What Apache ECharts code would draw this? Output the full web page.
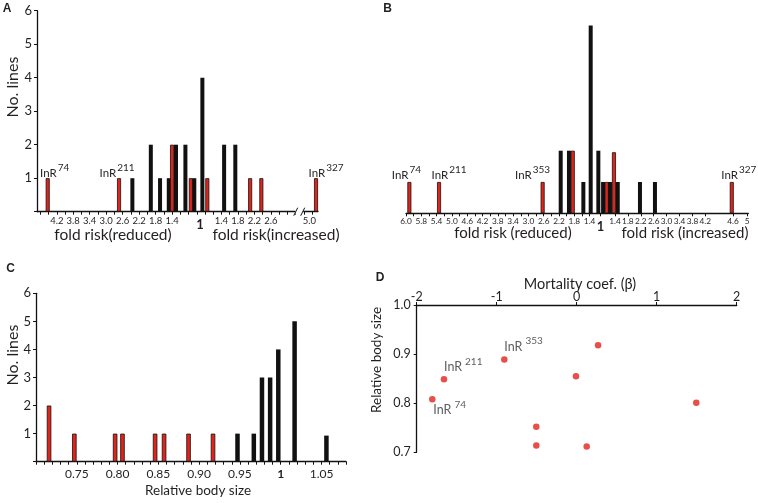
<!DOCTYPE html>
<html><head><meta charset="utf-8">
<script src="https://cdn.jsdelivr.net/npm/echarts@6/dist/echarts.min.js"></script>
<style>html,body{margin:0;padding:0;background:#fff}#c{width:758px;height:503px}</style>
</head><body><div id="c"></div>
<script>
// ---------- DATA ----------
// Panel A: bar positions on the schematic fold-risk axis (slot units), counts, red flag, tags
const aPos   = [-0.55, 3.78, 4.59, 5.71, 6.27, 6.80, 7.00, 7.24, 7.81, 8.14, 8.35, 8.84, 9.14, 10.16, 10.84, 11.74, 12.42, 15.74];
const aCount = [1, 1, 1, 2, 1, 1, 2, 2, 2, 1, 1, 4, 1, 2, 2, 1, 1, 1];
const aRed   = [1, 1, 0, 0, 0, 0, 1, 0, 0, 1, 0, 0, 1, 0, 0, 1, 1, 1];
const aTag   = ['74', '211', '', '', '', '', '', '', '', '', '', '', '', '', '', '', '', '327'];
const aTickPos  = [0, 1, 2, 3, 4, 5, 6, 7, 8.7, 10, 11, 12, 13, 15.34];
const aTickText = ['4.2', '3.8', '3.4', '3.0', '2.6', '2.2', '1.8', '1.4', '1', '1.4', '1.8', '2.2', '2.6', '5.0'];

// Panel B
const bPos   = [0.22, 2.16, 8.93, 10.11, 10.65, 10.90, 11.59, 12.07, 12.57, 12.88, 13.12, 13.33, 13.59, 13.84, 15.29, 16.27, 21.29];
const bCount = [1, 1, 1, 2, 2, 2, 1, 6, 2, 1, 1, 1, 1.95, 1, 1, 1, 1];
const bRed   = [1, 1, 1, 0, 0, 1, 0, 0, 0, 0, 1, 0, 1, 0, 0, 0, 1];
const bTag   = ['74', '211', '353', '', '', '', '', '', '', '', '', '', '', '', '', '', '327'];
const bTickPos  = [0, 1, 2, 3, 4, 5, 6, 7, 8, 9, 10, 11, 12, 12.71, 13.66, 14.5, 15.35, 16.19, 17.03, 17.87, 18.72, 19.56, 21.37, 22.29];
const bTickText = ['6.0', '5.8', '5.4', '5.0', '4.6', '4.2', '3.8', '3.4', '3.0', '2.6', '2.2', '1.8', '1.4', '1', '1.4', '1.8', '2.2', '2.6', '3.0', '3.4', '3.8', '4.2', '4.6', '5'];

// Panel C: relative body size
const cSize  = [0.716, 0.747, 0.797, 0.806, 0.846, 0.857, 0.887, 0.917, 0.947, 0.967, 0.977, 0.987, 0.997, 1.017, 1.056];
const cCount = [2, 1, 1, 1, 1, 1, 1, 1, 1, 1, 3, 3, 4, 5, 0.93];
const cRed   = [1, 1, 1, 1, 1, 1, 1, 1, 0, 0, 0, 0, 0, 0, 0];
const cTickText = ['0.75', '0.80', '0.85', '0.90', '0.95', '1', '1.05'];

// Panel D: mortality coefficient vs relative body size
const dBeta = [-1.805, -1.659, -0.905, 0.267, -0.009, 1.495, -0.505, -0.505, 0.125];
const dSize = [0.808, 0.849, 0.889, 0.918, 0.855, 0.801, 0.752, 0.714, 0.712];
const dTag  = ['74', '211', '353', '', '', '', '', '', ''];

// ---------- STYLE ----------
const RED = '#e2231a', BLK = '#111111', TXT = '#231f20';
const FONT = 'Lato, "Open Sans", sans-serif';
const tagOffA = {'74': [7, 1], '211': [-2, 1], '327': [10, 1]};
const tagOffB = {'74': [-3, -1], '211': [10, -1], '353': [-10, -1], '327': [7, -1]};
const tagOffD = {'74': [1, 9], '211': [0, -14], '353': [0, -15]};

const tagRich = {
  b: {fontSize: 11.5, fontFamily: FONT, color: TXT, verticalAlign: 'bottom'},
  s: {fontSize: 10, fontFamily: FONT, color: TXT, verticalAlign: 'bottom', padding: [0, 0, 6.5, 1]}
};
const tagRichD = {
  b: {fontSize: 12.5, fontFamily: FONT, color: '#333', verticalAlign: 'bottom', padding: [0, 3, 0, 0]},
  s: {fontSize: 10, fontFamily: FONT, color: '#333', verticalAlign: 'bottom', padding: [0, 0, 7, 0]}
};

function barData(pos, cnt, red, tags, offs) {
  return pos.map((p, i) => {
    const item = {
      value: [p, cnt[i]],
      itemStyle: red[i] ? {color: RED, borderColor: BLK, borderWidth: 0.8} : {color: BLK}
    };
    if (tags && tags[i]) {
      item.label = {
        show: true, position: 'top', distance: 0, offset: offs[tags[i]],
        formatter: '{b|InR}{s|' + tags[i] + '}', rich: tagRich
      };
    }
    return item;
  });
}
function lookup(posArr, textArr) {
  return function (v) {
    for (let i = 0; i < posArr.length; i++) {
      if (Math.abs(posArr[i] - v) < 1e-6) return textArr[i] === '1' ? '{one|1}' : textArr[i];
    }
    return '';
  };
}
function halfSteps(a, b) { const r = []; for (let v = a; v <= b + 1e-9; v += 0.5) r.push(+v.toFixed(2)); return r; }

const yCount = (show) => ({
  type: 'value', min: 0, max: 6, interval: 1, show: show,
  axisLine: {show: true, onZero: false, lineStyle: {color: BLK, width: 1.3}},
  axisTick: {show: true, length: 3, lineStyle: {color: BLK}},
  splitLine: {show: false},
  axisLabel: {fontSize: 13, fontFamily: FONT, color: TXT, margin: 5, formatter: v => v === 0 ? '' : v}
});
const oneRich = {one: {fontSize: 13, fontWeight: 'bold', fontFamily: FONT, color: TXT, padding: [3, 0, 0, 0]}};

const chart = echarts.init(document.getElementById('c'), null, {renderer: 'canvas'});

const aTicks = halfSteps(-1, 14.5).concat([15, 15.5]);
const bTicks = halfSteps(0, 12).concat(bTickPos.slice(13));
const cTicks = []; for (let k = 70; k <= 108; k++) cTicks.push(k / 100);

const option = {
  animation: false,
  backgroundColor: '#fff',
  grid: [
    {left: 37, top: 10.7, width: 281, height: 201},
    {left: 406, top: 25.5, width: 342.3, height: 187.8},
    {left: 36, top: 293.3, width: 310, height: 168.4},
    {left: 416.7, top: 305, width: 320, height: 147.3}
  ],
  xAxis: [
    {gridIndex: 0, type: 'value', min: -1.2, max: 15.86,
     axisLine: {onZero: false, lineStyle: {color: BLK, width: 1.3}}, splitLine: {show: false},
     axisTick: {customValues: aTicks, length: 3, lineStyle: {color: BLK}},
     axisLabel: {customValues: aTickPos, formatter: lookup(aTickPos, aTickText), fontSize: 9.5, fontFamily: FONT, color: TXT, margin: 4, rich: oneRich}},
    {gridIndex: 1, type: 'value', min: 0, max: 22.37,
     axisLine: {onZero: false, lineStyle: {color: BLK, width: 1.3}}, splitLine: {show: false},
     axisTick: {customValues: bTicks, length: 3, lineStyle: {color: BLK}},
     axisLabel: {customValues: bTickPos, formatter: lookup(bTickPos, bTickText), fontSize: 8.3, fontFamily: FONT, color: TXT, margin: 4, rich: oneRich}},
    {gridIndex: 2, type: 'value', min: 0.70, max: 1.08,
     axisLine: {onZero: false, lineStyle: {color: BLK, width: 1.3}}, splitLine: {show: false},
     axisTick: {customValues: cTicks, length: 3, lineStyle: {color: BLK}},
     axisLabel: {customValues: [0.75, 0.80, 0.85, 0.90, 0.95, 1.00, 1.05],
       formatter: v => { const t = cTickText[Math.round((v - 0.75) / 0.05)]; return t === '1' ? '{one|1}' : t; },
       fontSize: 12, fontFamily: FONT, color: TXT, margin: 6, rich: {one: {fontSize: 12, fontWeight: 'bold', fontFamily: FONT, color: TXT}}}},
    {gridIndex: 3, type: 'value', position: 'top', min: -2, max: 2, interval: 1,
     axisLine: {onZero: false, lineStyle: {color: BLK, width: 1.3}}, splitLine: {show: false},
     axisTick: {show: true, length: 3, lineStyle: {color: BLK}},
     axisLabel: {fontSize: 12.5, fontFamily: FONT, color: TXT, margin: 2}}
  ],
  yAxis: [
    Object.assign({gridIndex: 0}, yCount(true)),
    Object.assign({gridIndex: 1}, yCount(false)),
    Object.assign({gridIndex: 2}, yCount(true)),
    {gridIndex: 3, type: 'value', min: 0.7, max: 1.0, interval: 0.1,
     axisLine: {show: true, onZero: false, lineStyle: {color: BLK, width: 1.3}},
     axisTick: {show: true, length: 3, lineStyle: {color: BLK}}, splitLine: {show: false},
     axisLabel: {fontSize: 12.5, fontFamily: FONT, color: TXT, margin: 6, formatter: v => v.toFixed(1)}}
  ],
  series: [
    {type: 'bar', xAxisIndex: 0, yAxisIndex: 0, barWidth: 4, data: barData(aPos, aCount, aRed, aTag, tagOffA)},
    {type: 'bar', xAxisIndex: 1, yAxisIndex: 1, barWidth: 4, data: barData(bPos, bCount, bRed, bTag, tagOffB)},
    {type: 'bar', xAxisIndex: 2, yAxisIndex: 2, barWidth: 4.5, data: barData(cSize, cCount, cRed, null, null)},
    {type: 'scatter', xAxisIndex: 3, yAxisIndex: 3, symbolSize: 6.5,
     itemStyle: {color: RED},
     data: dBeta.map((b, i) => {
       const it = {value: [b, dSize[i]]};
       if (dTag[i]) it.label = {show: true, position: 'inside', align: 'left', verticalAlign: 'middle',
         offset: tagOffD[dTag[i]], formatter: '{b|InR}{s|' + dTag[i] + '}', rich: tagRichD};
       return it;
     })}
  ]
};
chart.setOption(option);

// ---------- decorations: panel letters, axis titles, axis break ----------
function txt(x, y, text, size, opts) {
  return Object.assign({type: 'text', x: x, y: y, z: 100,
    style: Object.assign({text: text, fill: TXT, font: size + 'px ' + FONT, align: 'center', verticalAlign: 'middle'}, (opts && opts.style) || {})},
    opts && opts.rotation ? {rotation: opts.rotation} : {});
}
const bold = (s) => ({style: {font: 'bold ' + s + 'px "Liberation Sans", Arial, sans-serif'}});
const brk = chart.convertToPixel({xAxisIndex: 0, yAxisIndex: 0}, [14.72, 0]);
const graphics = [
  txt(7, 9, 'A', 12, bold(12)),
  txt(387.5, 9, 'B', 12, bold(12)),
  txt(10.5, 269, 'C', 12, bold(12)),
  txt(380, 278, 'D', 12, bold(12)),
  txt(12.5, 87, 'No. lines', 16, {rotation: Math.PI / 2}),
  txt(113, 235, 'fold risk(reduced)', 15.5),
  txt(276, 235, 'fold risk(increased)', 15.5),
  txt(513, 233, 'fold risk (reduced)', 15),
  txt(685, 233, 'fold risk (increased)', 15),
  txt(12.5, 355, 'No. lines', 16, {rotation: Math.PI / 2}),
  txt(198, 491, 'Relative body size', 13.5),
  txt(580, 284, 'Mortality coef. (β)', 14.5),
  txt(377, 360, 'Relative body size', 13.5, {rotation: Math.PI / 2}),
  {type: 'rect', z: 100, shape: {x: brk[0] - 4, y: brk[1] - 2, width: 8, height: 4}, style: {fill: '#fff'}},
  {type: 'line', z: 101, shape: {x1: brk[0] - 5.5, y1: brk[1] + 4, x2: brk[0] - 1.5, y2: brk[1] - 4}, style: {stroke: BLK, lineWidth: 1}},
  {type: 'line', z: 101, shape: {x1: brk[0] + 1.5, y1: brk[1] + 4, x2: brk[0] + 5.5, y2: brk[1] - 4}, style: {stroke: BLK, lineWidth: 1}}
];
chart.setOption({graphic: graphics});
</script>
</body></html>
